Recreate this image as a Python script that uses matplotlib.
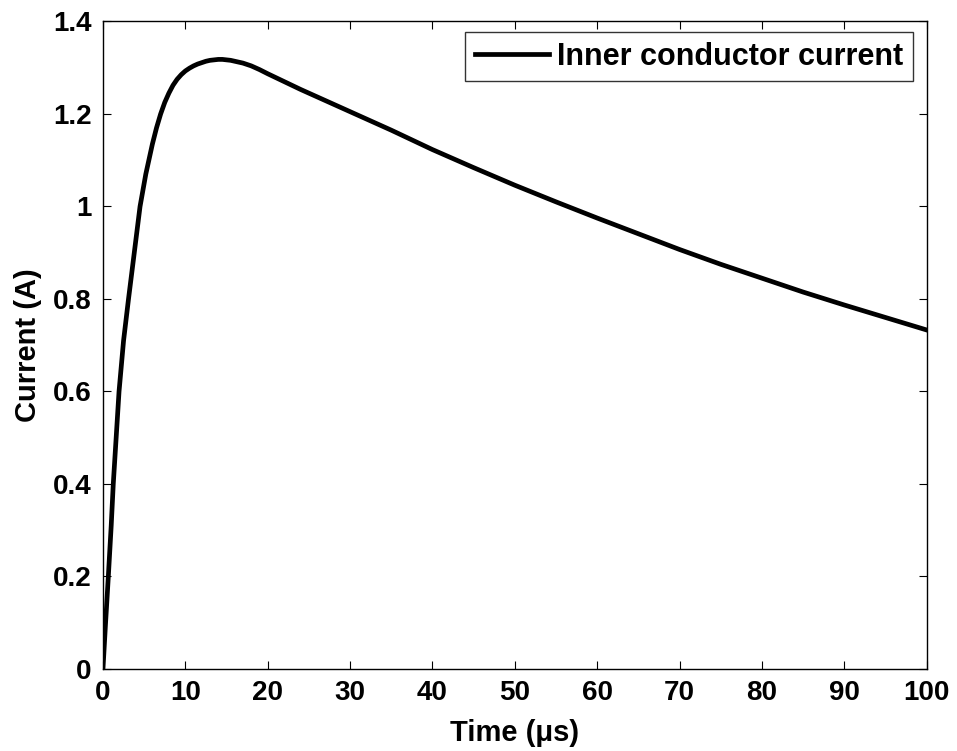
import matplotlib
matplotlib.use("Agg")
import matplotlib.pyplot as plt

# Inner conductor current waveform (time in microseconds, current in amperes)
time_us = [0, 0.3, 0.65, 1.0, 1.25, 1.6, 1.95, 2.5, 3.1, 3.8, 4.5, 5.2, 6.0,
           6.5, 7.0, 7.5, 8.0, 8.5, 9.0, 9.5, 10, 10.5, 11, 11.5, 12, 12.5, 13,
           13.5, 14, 14.5, 15, 15.5, 16, 17, 18, 19, 20, 22, 24, 26, 28, 30,
           32, 35, 40, 45, 50, 55, 60, 65, 70, 75, 80, 85, 90, 95, 100]
current_a = [0, 0.095, 0.2, 0.31, 0.4, 0.5, 0.6, 0.71, 0.8, 0.9, 1.0, 1.07,
             1.135, 1.17, 1.20, 1.225, 1.245, 1.262, 1.275, 1.285, 1.293, 1.299,
             1.304, 1.308, 1.311, 1.314, 1.316, 1.317, 1.318, 1.318, 1.317,
             1.316, 1.314, 1.310, 1.304, 1.296, 1.287, 1.270, 1.253, 1.237,
             1.221, 1.205, 1.189, 1.165, 1.123, 1.084, 1.046, 1.010, 0.975,
             0.941, 0.907, 0.875, 0.845, 0.815, 0.787, 0.760, 0.733]

x_ticks = [0, 10, 20, 30, 40, 50, 60, 70, 80, 90, 100]
y_ticks = [0, 0.2, 0.4, 0.6, 0.8, 1.0, 1.2, 1.4]
y_tick_labels = ["0", "0.2", "0.4", "0.6", "0.8", "1", "1.2", "1.4"]

plt.rcParams["font.family"] = ["Liberation Sans", "DejaVu Sans"]
plt.rcParams["font.weight"] = "bold"

fig = plt.figure(figsize=(9.57, 7.51), dpi=100)
ax = fig.add_axes([0.1076, 0.1092, 0.8607, 0.8622])

ax.plot(time_us, current_a, color="black", linewidth=3.4,
        solid_joinstyle="round", label="Inner conductor current")

ax.set_xlim(0, 100)
ax.set_ylim(0, 1.4)
ax.set_xticks(x_ticks)
ax.set_yticks(y_ticks)
ax.set_yticklabels(y_tick_labels)

ax.tick_params(direction="in", length=6, width=0.8, top=True, right=True,
               labelsize=20, pad=8)
for lbl in ax.get_xticklabels() + ax.get_yticklabels():
    lbl.set_fontweight("bold")
for sp in ax.spines.values():
    sp.set_linewidth(1.0)

ax.set_xlabel("Time (\u03bcs)", fontsize=21, fontweight="bold", labelpad=9)
ax.set_ylabel("Current (A)", fontsize=21, fontweight="bold", labelpad=8)

leg = ax.legend(loc="upper right", bbox_to_anchor=(0.983, 0.983),
                fontsize=22, frameon=True, fancybox=False, borderpad=0.3,
                handlelength=2.45, handletextpad=0.26, borderaxespad=0)
leg.get_frame().set_edgecolor("black")
leg.get_frame().set_linewidth(1.0)
for t in leg.get_texts():
    t.set_fontweight("bold")

fig.savefig("out.png", dpi=100)
